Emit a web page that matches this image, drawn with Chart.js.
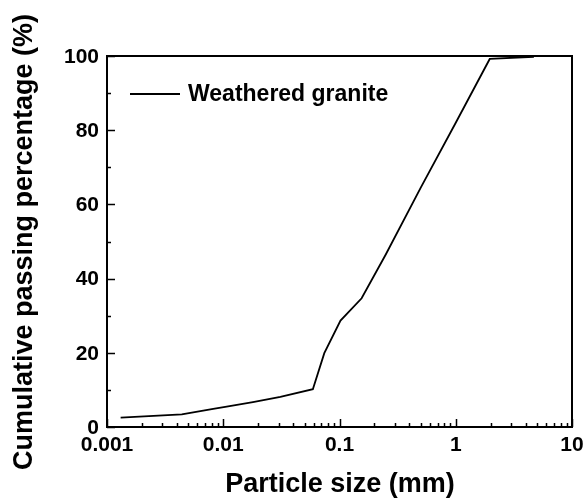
<!DOCTYPE html>
<html>
<head>
<meta charset="utf-8">
<script src="https://cdn.jsdelivr.net/npm/chart.js@4/dist/chart.umd.min.js"></script>
<style>
  html, body { margin: 0; padding: 0; background: #ffffff; }
  #wrap { width: 583px; height: 501px; }
</style>
</head>
<body>
<div id="wrap"><canvas id="c" width="583" height="501"></canvas></div>
<script>
// Grain-size distribution of the weathered granite
const particleSize = [0.00131, 0.0044, 0.0082, 0.0107, 0.018, 0.031, 0.059, 0.074, 0.102, 0.155, 0.25, 0.5, 1, 1.96, 4.7];
const passingPct   = [2.5, 3.4, 4.9, 5.5, 6.7, 8.1, 10.2, 19.9, 28.7, 34.7, 46.5, 64.5, 82.0, 99.2, 99.8];

const xTickValues = [0.001, 0.01, 0.1, 1, 10];
const xTickLabels = ['0.001', '0.01', '0.1', '1', '10'];
const yTickValues = [0, 20, 40, 60, 80, 100];
const yTickLabels = ['0', '20', '40', '60', '80', '100'];

const seriesName = 'Weathered granite';
const xTitle = 'Particle size (mm)';
const yTitle = 'Cumulative passing percentage (%)';

const FONT = '"Liberation Sans", Arial, Helvetica, sans-serif';

// Frame, inward ticks, tick labels, axis titles and legend
const framePlugin = {
  id: 'frame',
  afterDraw(chart) {
    const { ctx, chartArea: a, scales } = chart;
    const xs = scales.x, ys = scales.y;
    ctx.save();
    ctx.strokeStyle = '#000';
    ctx.fillStyle = '#000';

    // box
    ctx.lineWidth = 2;
    ctx.strokeRect(a.left, a.top, a.right - a.left, a.bottom - a.top);

    // x ticks (major + log minor)
    ctx.lineWidth = 1.5;
    ctx.beginPath();
    for (let e = -3; e <= 1; e++) {
      for (let m = 1; m <= 9; m++) {
        const v = m * Math.pow(10, e);
        if (v > 10.0001) break;
        const px = Math.round(xs.getPixelForValue(v)) + 0.5;
        const len = m === 1 ? 8 : 4;
        ctx.moveTo(px, a.bottom);
        ctx.lineTo(px, a.bottom - len);
      }
    }
    // y ticks (major every 20, minor every 10)
    for (let v = 0; v <= 100; v += 10) {
      const py = Math.round(ys.getPixelForValue(v)) + 0.5;
      const len = v % 20 === 0 ? 8 : 4;
      ctx.moveTo(a.left, py);
      ctx.lineTo(a.left + len, py);
    }
    ctx.stroke();

    // tick labels
    ctx.font = 'bold 21px ' + FONT;
    ctx.textAlign = 'center';
    ctx.textBaseline = 'middle';
    xTickValues.forEach((v, i) => {
      ctx.fillText(xTickLabels[i], xs.getPixelForValue(v), a.bottom + 18);
    });
    ctx.textAlign = 'right';
    yTickValues.forEach((v, i) => {
      ctx.fillText(yTickLabels[i], a.left - 8, ys.getPixelForValue(v) + 1);
    });

    // axis titles
    ctx.font = 'bold 27px ' + FONT;
    ctx.textAlign = 'center';
    ctx.textBaseline = 'middle';
    ctx.fillText(xTitle, 340, 485);
    ctx.save();
    ctx.translate(25, 242);
    ctx.rotate(-Math.PI / 2);
    ctx.font = 'bold 27px ' + FONT;
    ctx.fillText(yTitle, 0, 0);
    ctx.restore();

    // legend
    const ds = chart.data.datasets[0];
    ctx.strokeStyle = ds.borderColor;
    ctx.lineWidth = ds.borderWidth;
    ctx.beginPath();
    ctx.moveTo(130, 94);
    ctx.lineTo(180, 94);
    ctx.stroke();
    ctx.font = 'bold 23px ' + FONT;
    ctx.textAlign = 'left';
    ctx.textBaseline = 'middle';
    ctx.fillText(ds.label, 188, 95);

    ctx.restore();
  }
};

new Chart(document.getElementById('c'), {
  type: 'line',
  data: {
    datasets: [{
      label: seriesName,
      data: particleSize.map((d, i) => ({ x: d, y: passingPct[i] })),
      borderColor: '#000000',
      borderWidth: 1.8,
      pointRadius: 0,
      tension: 0,
      fill: false
    }]
  },
  options: {
    responsive: false,
    animation: false,
    layout: { padding: { left: 107, top: 56, right: 11, bottom: 74 } },
    plugins: { legend: { display: false }, tooltip: { enabled: false } },
    scales: {
      x: { type: 'logarithmic', min: 0.001, max: 10, display: false },
      y: { type: 'linear', min: 0, max: 100, display: false }
    }
  },
  plugins: [framePlugin]
});
</script>
</body>
</html>
